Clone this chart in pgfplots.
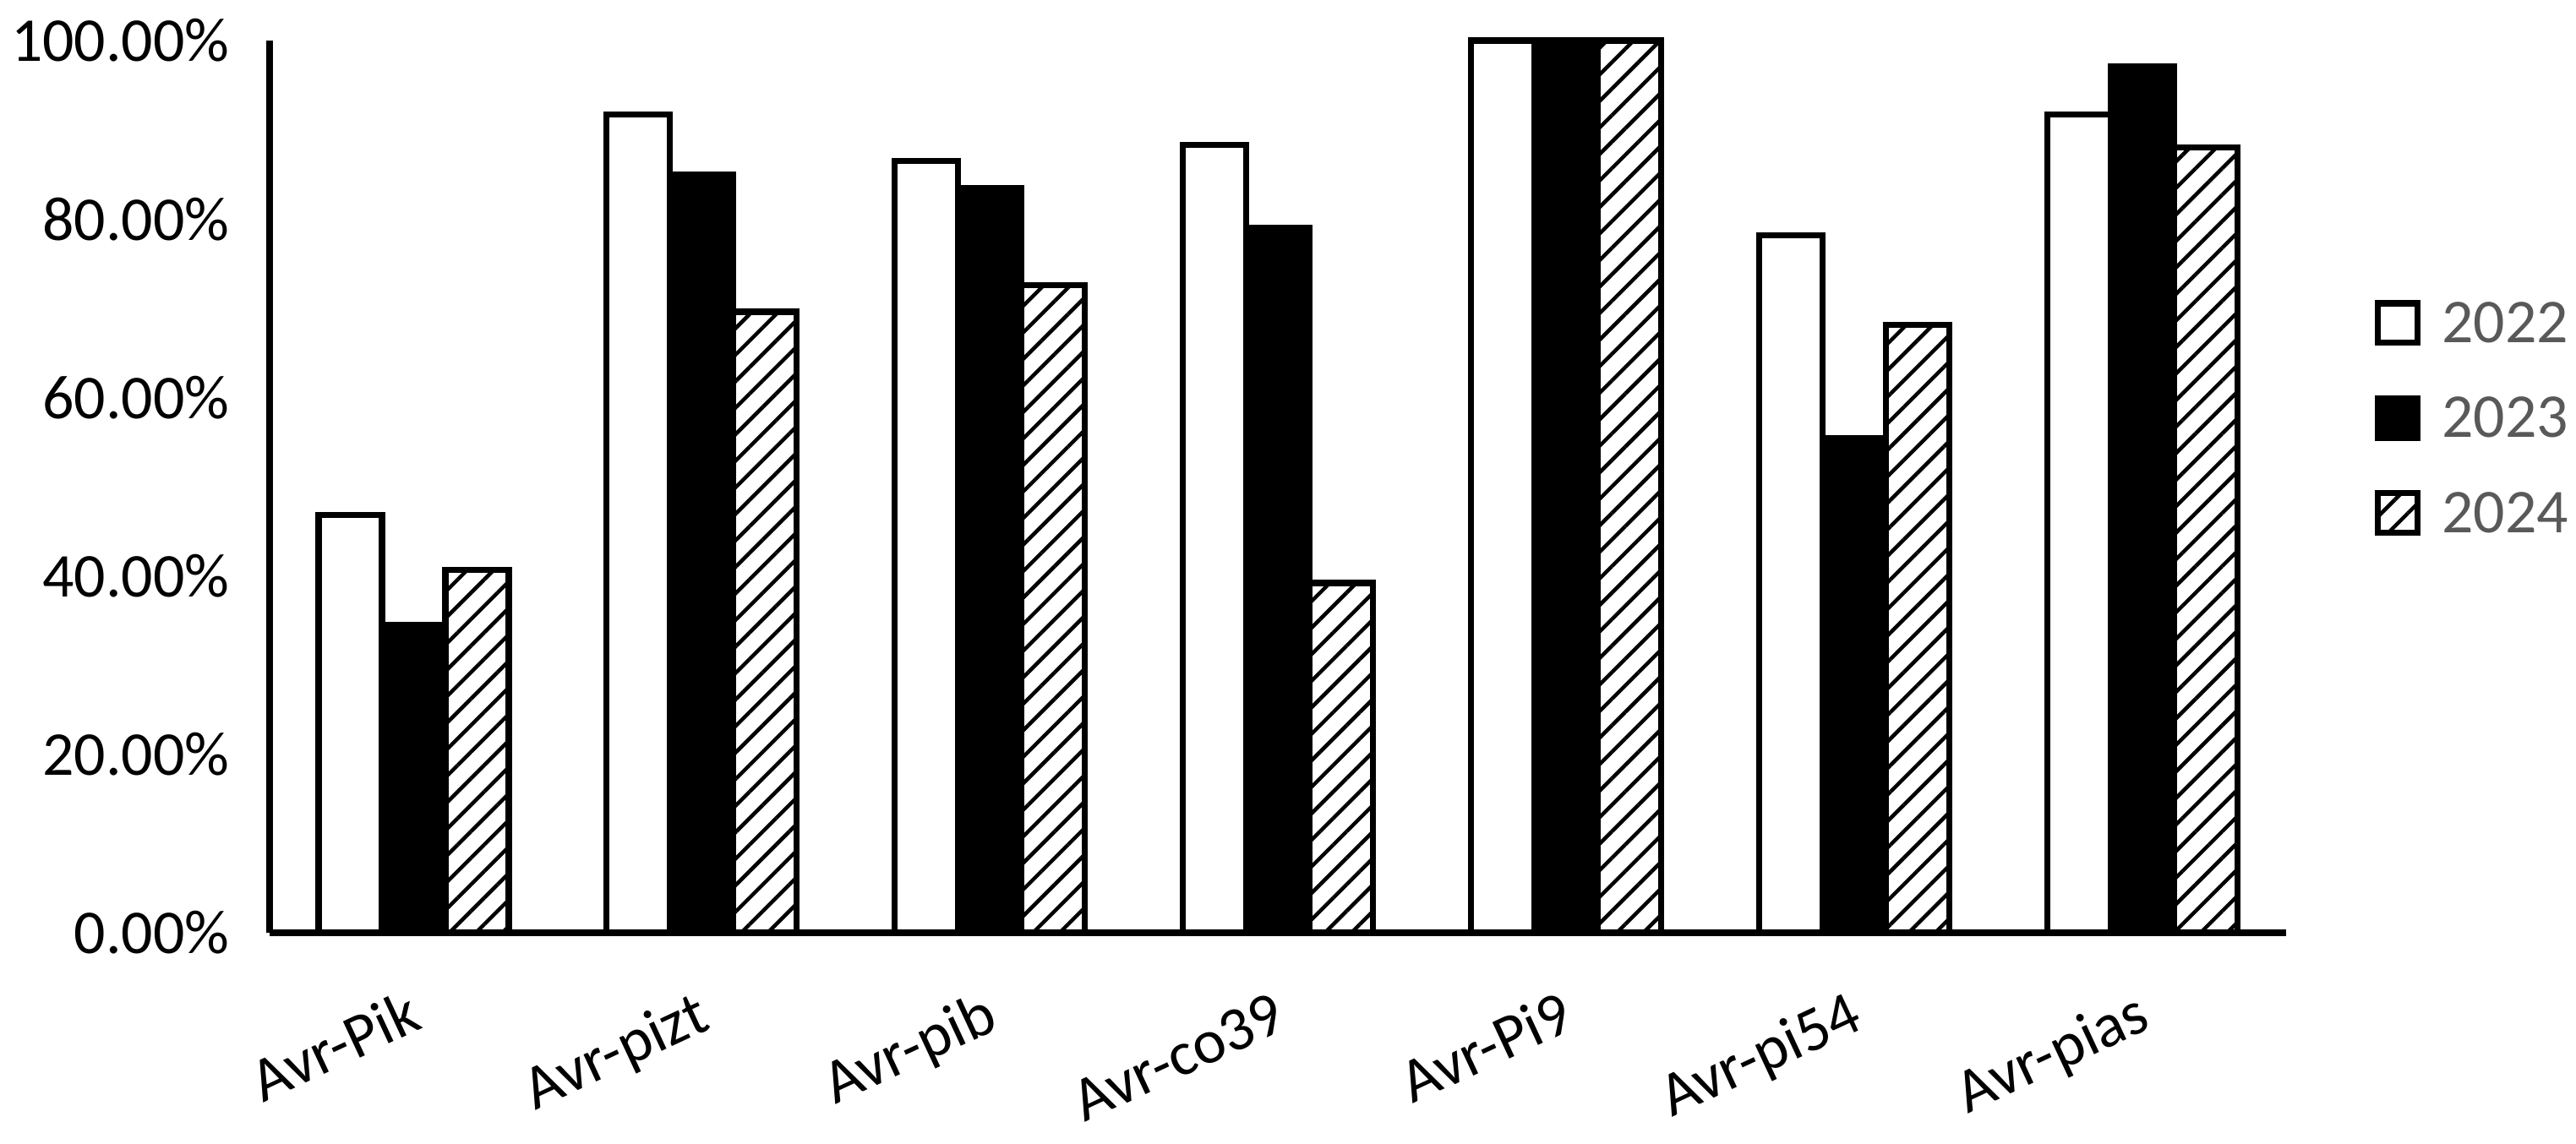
\documentclass[border=0pt]{standalone}
\usepackage{fontspec}
\setmainfont{Carlito}
\usepackage{pgfplots}
\usepackage{pgfplotstable}
\pgfplotsset{compat=1.18}
\usetikzlibrary{patterns.meta}
\definecolor{legtext}{RGB}{89,89,89}
\pgfplotsset{boxlegend/.style={legend image code/.code={\draw[##1, line width=1.2pt] (0pt,-3.3pt) rectangle (7.8pt,4.5pt);}}}
\pgfplotstableread{
x y22 y23 y24
0 46.8 34.5 40.7
1 91.7 85.0 69.6
2 86.5 83.5 72.6
3 88.3 79.0 39.2
4 100  100  100
5 78.2 55.4 68.1
6 91.7 97.1 88.0
}\datatable
\begin{document}
\begin{tikzpicture}
\path[use as bounding box] (-53.17pt,-41.5pt) rectangle (454.83pt,184pt);
\begin{axis}[
  at={(0,0)}, anchor=south west,
  scale only axis, width=397.67pt, height=176pt,
  ybar=0pt, bar width=12.5pt,
  xmin=-0.5, xmax=6.5, ymin=0, ymax=100,
  axis x line*=bottom, axis y line*=left,
  axis line style={line width=1.2pt, -},
  x axis line style={line width=1.4pt},
  xtick={0,1,2,3,4,5,6},
  xticklabels={Avr-Pik,Avr-pizt,Avr-pib,Avr-co39,Avr-Pi9,Avr-pi54,Avr-pias},
  ytick={0,20,40,60,80,100},
  major tick length=0pt,
  /pgf/number format/assume math mode=true,
  yticklabel={\pgfmathprintnumber[fixed,fixed zerofill,precision=2]{\tick}\%},
  tick label style={font=\fontsize{12.3}{14.8}\selectfont, black},
  yticklabel style={xshift=-4.4pt},
  xticklabel style={inner sep=0pt, xshift=2.2pt, yshift=-18.7pt, rotate=25, anchor=base east},
  legend style={at={(1.0436,0.5745)}, anchor=west, draw=none, fill=none, inner sep=0pt,
    nodes={inner sep=0pt}, row sep=8.9pt, column sep=4.2pt,
    font=\fontsize{12.3}{14.8}\selectfont, text=legtext},
  legend cell align=left,
  clip=false,
]
\addplot[fill=white, draw=black, line width=1.2pt, boxlegend]
  table[x=x,y=y22]{\datatable};
\addplot[fill=black, draw=black, line width=1.2pt, boxlegend]
  table[x=x,y=y23]{\datatable};
\addplot[pattern={Lines[angle=45,distance=3.7pt,line width=0.75pt]}, pattern color=black, draw=black, line width=1.2pt, boxlegend]
  table[x=x,y=y24]{\datatable};
\legend{2022,2023,2024}
\end{axis}
\end{tikzpicture}
\end{document}
